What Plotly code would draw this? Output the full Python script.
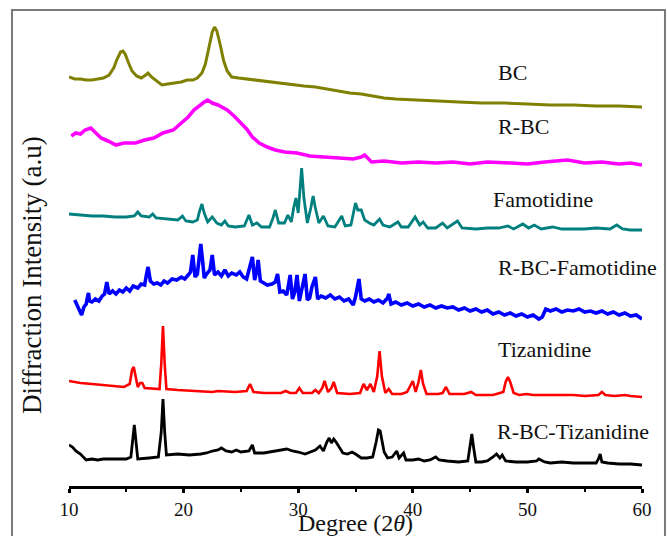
import plotly.graph_objects as go

# ---- data (2-theta in degrees, intensity in arbitrary units) ----
bc_x = [10.0, 10.5, 11.0, 11.5, 12.0, 12.5, 13.0, 13.5, 13.9, 14.2, 14.5, 14.7, 14.9, 15.2, 15.5, 15.9, 16.3, 16.7, 16.9, 17.2,
        17.6, 18.1, 18.6, 19.2, 19.8, 20.3, 20.8, 21.2, 21.6, 21.9, 22.2, 22.5, 22.7, 22.9, 23.2, 23.5, 23.8, 24.2, 24.8, 25.5,
        26.5, 27.5, 28.5, 29.5, 30.5, 31.5, 32.5, 33.5, 34.5, 35.5, 36.5, 37.5, 38.5, 40.0, 42.0, 44.0, 46.0, 48.0, 50.0, 52.0,
        54.0, 56.0, 58.0, 60.0]
bc_y = [400, 398, 398, 397, 397, 398, 399, 402, 409, 418, 425, 426, 423, 414, 406, 401, 399, 402, 404, 400,
        396, 392, 393, 394, 395, 397, 397, 399, 404, 413, 428, 445, 450, 446, 432, 416, 406, 400, 399, 398,
        397, 395, 394, 392, 391, 390, 388, 386, 384, 383, 381, 379, 378, 377, 376, 375, 374, 374, 373, 372,
        372, 371, 371, 370]

rbc_x = [10.2, 10.6, 11.0, 11.4, 11.9, 12.3, 12.8, 13.4, 14.1, 14.8, 15.8, 16.6, 17.4, 18.2, 19.1, 19.8, 20.4, 20.9, 21.4, 21.8,
         22.1, 22.5, 23.0, 23.4, 23.8, 24.4, 25.0, 25.5, 26.0, 26.6, 27.3, 28.0, 28.8, 29.9, 31.0, 32.2, 33.5, 34.8, 35.5, 35.8,
         36.4, 37.5, 39.0, 40.5, 42.0, 43.5, 45.0, 46.5, 48.6, 50.0, 51.5, 53.5, 55.0, 56.5, 58.0, 59.0, 60.0]
rbc_y = [340, 343, 342, 346, 348, 343, 338, 335, 331, 333, 333, 336, 338, 343, 346, 353, 359, 366, 371, 374,
         376, 373, 371, 368, 366, 360, 353, 347, 339, 333, 329, 326, 324, 323, 320, 319, 318, 317, 319, 321,
         314, 315, 313, 314, 313, 314, 312, 314, 313, 312, 314, 316, 313, 314, 312, 313, 311]

fam_x = [10.0, 11.0, 12.0, 13.0, 14.0, 15.0, 15.7, 16.0, 16.3, 17.0, 17.3, 17.6, 18.5, 19.5, 19.9, 20.2, 20.8, 21.2, 21.4, 21.6,
         21.8, 22.1, 22.5, 22.9, 23.3, 23.6, 23.9, 24.5, 25.3, 25.7, 26.0, 26.4, 26.8, 27.5, 27.8, 28.0, 28.3, 28.8, 29.1, 29.4,
         29.6, 29.8, 30.0, 30.15, 30.3, 30.5, 30.8, 31.1, 31.3, 31.5, 31.8, 32.2, 32.6, 33.2, 33.8, 34.1, 34.6, 35.0, 35.2, 35.5,
         35.8, 36.2, 36.6, 37.1, 37.4, 38.0, 38.7, 39.0, 39.6, 40.2, 40.6, 40.9, 41.3, 42.0, 42.6, 43.0, 43.9, 44.3, 45.5, 46.5,
         47.5, 48.3, 48.8, 49.6, 50.1, 50.6, 51.2, 52.2, 53.0, 54.0, 55.0, 56.0, 57.2, 57.8, 58.3, 59.0, 60.0]
fam_y = [265, 264, 263, 263, 262, 262, 263, 267, 263, 262, 265, 261, 260, 259, 263, 258, 257, 259, 268, 275,
         266, 257, 262, 256, 254, 258, 253, 252, 253, 264, 254, 256, 252, 252, 261, 269, 256, 256, 264, 257,
         271, 281, 266, 286, 311, 281, 256, 271, 283, 271, 256, 263, 253, 252, 263, 253, 254, 276, 269, 269,
         259, 256, 254, 260, 254, 252, 257, 252, 252, 262, 254, 257, 251, 251, 256, 251, 258, 251, 250, 251,
         251, 253, 250, 255, 251, 254, 250, 252, 250, 250, 250, 251, 250, 254, 250, 249, 249]

rbcf_x = [10.5, 10.8, 11.0, 11.1, 11.3, 11.5, 11.6, 11.7, 11.8, 12.0, 12.3, 12.6, 12.9, 13.1, 13.3, 13.5, 13.8, 14.1, 14.4, 14.7,
          15.0, 15.3, 15.6, 16.0, 16.3, 16.6, 16.8, 16.9, 17.1, 17.4, 17.7, 18.0, 18.3, 18.6, 19.0, 19.4, 19.8, 20.1, 20.4, 20.6,
          20.8, 21.0, 21.2, 21.35, 21.5, 21.65, 21.8, 22.0, 22.3, 22.5, 22.7, 23.0, 23.3, 23.6, 23.9, 24.2, 24.6, 24.9, 25.2, 25.5,
          25.8, 26.0, 26.2, 26.4, 26.5, 26.7, 27.0, 27.3, 27.7, 28.0, 28.2, 28.4, 28.7, 29.0, 29.3, 29.5, 29.7, 29.9, 30.1, 30.3,
          30.6, 30.8, 31.0, 31.2, 31.5, 31.7, 32.0, 32.4, 32.8, 33.2, 33.6, 34.0, 34.4, 34.8, 35.0, 35.3, 35.5, 35.8, 36.2, 36.6,
          37.0, 37.4, 37.8, 37.9, 38.1, 38.5, 39.0, 39.5, 40.0, 40.5, 41.0, 41.5, 42.0, 42.5, 43.0, 43.5, 44.0, 44.5, 45.0, 45.5,
          46.0, 46.5, 47.0, 47.5, 48.0, 48.5, 49.0, 49.5, 50.0, 50.5, 51.0, 51.3, 51.6, 52.0, 52.5, 53.0, 53.5, 54.0, 54.5, 55.0,
          55.5, 56.0, 56.5, 57.0, 57.5, 58.0, 58.5, 59.0, 59.5, 60.0]
rbcf_y = [178, 171, 165, 163, 171, 174, 180, 185, 177, 176, 179, 177, 182, 184, 196, 184, 187, 184, 188, 186,
          190, 187, 192, 190, 194, 193, 206, 211, 197, 194, 195, 193, 197, 195, 199, 198, 201, 199, 203, 206,
          223, 201, 204, 221, 234, 218, 200, 204, 208, 223, 203, 206, 202, 208, 202, 205, 203, 206, 201, 199,
          211, 221, 198, 208, 218, 197, 195, 193, 194, 196, 204, 186, 187, 183, 203, 179, 186, 203, 177, 188,
          204, 178, 180, 191, 201, 179, 182, 180, 183, 179, 181, 177, 179, 173, 181, 199, 179, 177, 179, 176,
          178, 175, 180, 184, 174, 176, 173, 175, 172, 174, 171, 173, 170, 172, 170, 171, 168, 170, 167, 169,
          166, 168, 164, 166, 163, 165, 162, 164, 161, 163, 159, 161, 169, 167, 169, 166, 168, 167, 169, 166,
          167, 165, 167, 164, 166, 163, 165, 162, 163, 159]

tiz_x = [10.0, 11.0, 12.0, 13.0, 14.0, 14.8, 15.3, 15.5, 15.65, 15.8, 16.0, 16.2, 16.4, 16.6, 17.5, 17.9, 18.05, 18.2, 18.35, 18.5,
         19.5, 21.0, 22.5, 23.0, 24.5, 25.5, 25.8, 26.1, 27.0, 28.5, 28.9, 29.3, 29.8, 30.1, 30.4, 31.2, 31.5, 31.8, 32.1, 32.3,
         32.6, 32.9, 33.1, 33.4, 34.5, 35.4, 35.7, 36.0, 36.3, 36.6, 36.9, 37.1, 37.3, 37.6, 37.9, 38.2, 39.0, 39.5, 39.8, 40.0,
         40.25, 40.5, 40.7, 40.9, 41.2, 42.2, 42.6, 42.9, 43.2, 44.5, 45.1, 45.5, 47.0, 47.9, 48.1, 48.3, 48.5, 48.8, 49.3, 49.9,
         50.5, 52.0, 53.0, 54.0, 55.0, 56.2, 56.5, 56.8, 57.6, 58.5, 59.0, 60.0]
tiz_y = [99, 97, 96, 95, 94, 93, 96, 110, 113, 104, 93, 97, 97, 92, 91, 91, 116, 154, 116, 91,
         90, 89, 88, 89, 88, 89, 96, 88, 87, 87, 89, 87, 87, 92, 87, 87, 90, 87, 92, 99,
         88, 92, 98, 87, 86, 87, 96, 90, 96, 88, 104, 129, 104, 87, 91, 86, 86, 88, 94, 99,
         88, 98, 110, 96, 86, 86, 87, 93, 86, 86, 88, 85, 85, 88, 98, 103, 98, 87, 85, 86,
         85, 85, 85, 85, 84, 85, 88, 85, 84, 85, 84, 83]

rbct_x = [10.0, 10.3, 10.6, 11.0, 11.5, 12.0, 12.5, 13.0, 14.0, 15.0, 15.4, 15.6, 15.7, 15.85, 16.0, 17.0, 17.8, 18.05, 18.2, 18.35,
          18.5, 19.5, 20.5, 21.5, 22.0, 22.5, 23.0, 23.3, 23.7, 24.2, 24.6, 25.0, 25.7, 26.0, 26.2, 27.0, 28.0, 28.5, 29.0, 29.5,
          30.0, 30.6, 31.0, 31.5, 31.9, 32.2, 32.5, 32.7, 32.9, 33.1, 33.3, 33.6, 33.9, 34.3, 34.7, 35.0, 35.5, 36.0, 36.5, 36.8,
          37.0, 37.15, 37.3, 37.5, 37.8, 38.2, 38.6, 38.8, 39.2, 39.4, 40.0, 40.5, 41.0, 41.5, 42.0, 42.3, 43.0, 44.0, 44.8, 45.0,
          45.15, 45.3, 45.5, 46.0, 46.5, 47.0, 47.3, 47.6, 47.8, 48.1, 49.0, 50.0, 50.8, 51.0, 51.5, 52.0, 53.0, 54.0, 55.0, 56.0,
          56.2, 56.35, 56.5, 57.0, 58.0, 59.0, 60.0]
rbct_y = [33, 31, 27, 24, 18, 19, 18, 19, 19, 19, 21, 46, 53, 36, 19, 20, 21, 46, 79, 46,
          23, 24, 23, 24, 25, 27, 28, 30, 27, 26, 28, 26, 27, 33, 25, 25, 27, 28, 29, 27,
          26, 24, 26, 28, 32, 27, 36, 40, 35, 39, 36, 30, 25, 24, 26, 24, 20, 20, 21, 36,
          48, 47, 38, 26, 20, 21, 27, 20, 25, 18, 18, 19, 17, 18, 21, 18, 17, 16, 17, 31,
          44, 31, 16, 16, 17, 21, 24, 20, 23, 17, 16, 16, 17, 19, 16, 15, 16, 15, 15, 15,
          19, 24, 16, 15, 14, 14, 13]

names = ["BC", "R-BC", "Famotidine", "R-BC-Famotidine", "Tizanidine", "R-BC-Tizanidine"]
colors = ["#808000", "#ff00ff", "#007f7f", "#0000ff", "#ff0000", "#000000"]
# vertical stacking offset of each pattern (a.u.)
stack_offset = [9, 10, 7, 8, 6, 8]
label_x = [47.3, 47.3, 46.8, 47.3, 47.3, 47.2]
label_y = [414, 360, 287, 219, 137, 55]

series = [(bc_x, bc_y), (rbc_x, rbc_y), (fam_x, fam_y), (rbcf_x, rbcf_y), (tiz_x, tiz_y), (rbct_x, rbct_y)]
widths = [3.0, 3.6, 2.8, 3.6, 2.6, 2.8]

fig = go.Figure()
for (xs, ys), n, c, w, off in zip(series, names, colors, widths, stack_offset):
    fig.add_trace(go.Scatter(x=xs, y=[v + off for v in ys], mode="lines", name=n,
                             line=dict(color=c, width=w), showlegend=False))

serif = "Liberation Serif, Times New Roman, serif"
for n, lx, ly in zip(names, label_x, label_y):
    fig.add_annotation(x=lx, y=ly, xref="x", yref="y", text=n, showarrow=False, xanchor="left",
                       font=dict(family=serif, size=22, color="#111111"))

fig.add_annotation(x=0.5, y=-0.1090, xref="paper", yref="paper", text="Degree (2<i>θ</i>)", showarrow=False,
                   font=dict(family=serif, size=24, color="#111111"), yanchor="bottom", borderpad=0)
fig.add_annotation(x=-0.0646, y=0.451, xref="paper", yref="paper", text="Diffraction Intensity (a.u)", showarrow=False,
                   textangle=-90, font=dict(family=serif, size=27, color="#111111"), xanchor="center", yanchor="middle")

# outer frame
fig.add_shape(type="rect", xref="paper", yref="paper", x0=-0.0995, x1=1.0401, y0=-0.2, y1=1.017,
              line=dict(color="#7a7a7a", width=2), fillcolor="rgba(0,0,0,0)", layer="above")

fig.update_layout(
    width=667, height=536,
    margin=dict(l=69, r=25, t=18, b=50),
    paper_bgcolor="white", plot_bgcolor="white",
    xaxis=dict(range=[10, 60], tickvals=[10, 20, 30, 40, 50, 60], ticks="outside", ticklen=4, tickwidth=2.5,
               tickcolor="black", showline=True, linecolor="black", linewidth=2.5, showgrid=False, zeroline=False,
               tickfont=dict(family=serif, size=19, color="#111111"),
               minor=dict(tickvals=[15, 25, 35, 45, 55], ticks="outside", ticklen=3, tickwidth=2, tickcolor="black")),
    yaxis=dict(range=[0, 468], visible=False, showgrid=False, zeroline=False),
)

fig.write_html("out.html", config={"displayModeBar": False},
               post_script="document.body.style.margin='0px';document.body.style.overflow='hidden';")
